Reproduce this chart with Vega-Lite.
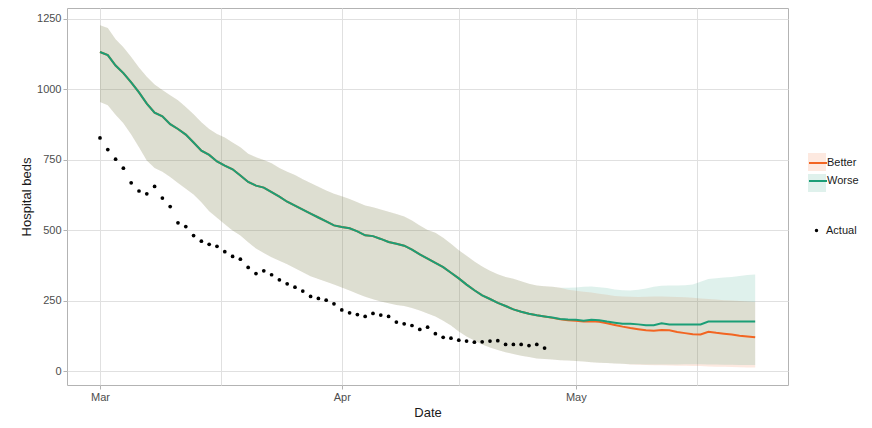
{
  "$schema": "https://vega.github.io/schema/vega-lite/v6.json",
  "width": 721,
  "height": 377,
  "autosize": "none",
  "padding": {"left": 67, "top": 8, "right": 84, "bottom": 43},
  "background": "white",
  "datasets": {
    "model": [
      {"date": "2020-03-01", "scenario": "Better", "beds": 1133, "lower": 956, "upper": 1228},
      {"date": "2020-03-02", "scenario": "Better", "beds": 1122, "lower": 944, "upper": 1218},
      {"date": "2020-03-03", "scenario": "Better", "beds": 1085, "lower": 910, "upper": 1178},
      {"date": "2020-03-04", "scenario": "Better", "beds": 1058, "lower": 880, "upper": 1150},
      {"date": "2020-03-05", "scenario": "Better", "beds": 1025, "lower": 840, "upper": 1115},
      {"date": "2020-03-06", "scenario": "Better", "beds": 990, "lower": 795, "upper": 1078},
      {"date": "2020-03-07", "scenario": "Better", "beds": 950, "lower": 748, "upper": 1045},
      {"date": "2020-03-08", "scenario": "Better", "beds": 918, "lower": 722, "upper": 1018},
      {"date": "2020-03-09", "scenario": "Better", "beds": 905, "lower": 708, "upper": 998},
      {"date": "2020-03-10", "scenario": "Better", "beds": 877, "lower": 690, "upper": 980},
      {"date": "2020-03-11", "scenario": "Better", "beds": 860, "lower": 668, "upper": 962},
      {"date": "2020-03-12", "scenario": "Better", "beds": 840, "lower": 648, "upper": 938},
      {"date": "2020-03-13", "scenario": "Better", "beds": 812, "lower": 628, "upper": 912},
      {"date": "2020-03-14", "scenario": "Better", "beds": 783, "lower": 600, "upper": 884},
      {"date": "2020-03-15", "scenario": "Better", "beds": 768, "lower": 568, "upper": 860},
      {"date": "2020-03-16", "scenario": "Better", "beds": 745, "lower": 545, "upper": 842},
      {"date": "2020-03-17", "scenario": "Better", "beds": 730, "lower": 522, "upper": 830},
      {"date": "2020-03-18", "scenario": "Better", "beds": 717, "lower": 500, "upper": 812},
      {"date": "2020-03-19", "scenario": "Better", "beds": 695, "lower": 482, "upper": 795},
      {"date": "2020-03-20", "scenario": "Better", "beds": 672, "lower": 458, "upper": 772},
      {"date": "2020-03-21", "scenario": "Better", "beds": 659, "lower": 436, "upper": 760},
      {"date": "2020-03-22", "scenario": "Better", "beds": 652, "lower": 420, "upper": 750},
      {"date": "2020-03-23", "scenario": "Better", "beds": 636, "lower": 405, "upper": 738},
      {"date": "2020-03-24", "scenario": "Better", "beds": 620, "lower": 393, "upper": 722},
      {"date": "2020-03-25", "scenario": "Better", "beds": 602, "lower": 380, "upper": 708},
      {"date": "2020-03-26", "scenario": "Better", "beds": 588, "lower": 366, "upper": 697},
      {"date": "2020-03-27", "scenario": "Better", "beds": 574, "lower": 352, "upper": 682},
      {"date": "2020-03-28", "scenario": "Better", "beds": 560, "lower": 338, "upper": 668},
      {"date": "2020-03-29", "scenario": "Better", "beds": 546, "lower": 328, "upper": 655},
      {"date": "2020-03-30", "scenario": "Better", "beds": 532, "lower": 318, "upper": 642},
      {"date": "2020-03-31", "scenario": "Better", "beds": 518, "lower": 308, "upper": 630},
      {"date": "2020-04-01", "scenario": "Better", "beds": 512, "lower": 298, "upper": 621},
      {"date": "2020-04-02", "scenario": "Better", "beds": 508, "lower": 287, "upper": 612},
      {"date": "2020-04-03", "scenario": "Better", "beds": 497, "lower": 276, "upper": 600},
      {"date": "2020-04-04", "scenario": "Better", "beds": 483, "lower": 265, "upper": 589},
      {"date": "2020-04-05", "scenario": "Better", "beds": 480, "lower": 256, "upper": 582},
      {"date": "2020-04-06", "scenario": "Better", "beds": 470, "lower": 248, "upper": 574},
      {"date": "2020-04-07", "scenario": "Better", "beds": 459, "lower": 242, "upper": 566},
      {"date": "2020-04-08", "scenario": "Better", "beds": 453, "lower": 236, "upper": 558},
      {"date": "2020-04-09", "scenario": "Better", "beds": 446, "lower": 232, "upper": 550},
      {"date": "2020-04-10", "scenario": "Better", "beds": 432, "lower": 225, "upper": 535},
      {"date": "2020-04-11", "scenario": "Better", "beds": 415, "lower": 216, "upper": 518},
      {"date": "2020-04-12", "scenario": "Better", "beds": 400, "lower": 206, "upper": 502},
      {"date": "2020-04-13", "scenario": "Better", "beds": 385, "lower": 195, "upper": 492},
      {"date": "2020-04-14", "scenario": "Better", "beds": 370, "lower": 180, "upper": 474},
      {"date": "2020-04-15", "scenario": "Better", "beds": 350, "lower": 163, "upper": 453},
      {"date": "2020-04-16", "scenario": "Better", "beds": 330, "lower": 142, "upper": 430},
      {"date": "2020-04-17", "scenario": "Better", "beds": 308, "lower": 124, "upper": 410},
      {"date": "2020-04-18", "scenario": "Better", "beds": 288, "lower": 110, "upper": 390},
      {"date": "2020-04-19", "scenario": "Better", "beds": 270, "lower": 96, "upper": 372},
      {"date": "2020-04-20", "scenario": "Better", "beds": 257, "lower": 85, "upper": 357},
      {"date": "2020-04-21", "scenario": "Better", "beds": 243, "lower": 76, "upper": 345},
      {"date": "2020-04-22", "scenario": "Better", "beds": 232, "lower": 68, "upper": 335},
      {"date": "2020-04-23", "scenario": "Better", "beds": 220, "lower": 62, "upper": 329},
      {"date": "2020-04-24", "scenario": "Better", "beds": 212, "lower": 56, "upper": 320},
      {"date": "2020-04-25", "scenario": "Better", "beds": 205, "lower": 51, "upper": 311},
      {"date": "2020-04-26", "scenario": "Better", "beds": 199, "lower": 46, "upper": 305},
      {"date": "2020-04-27", "scenario": "Better", "beds": 195, "lower": 44, "upper": 302},
      {"date": "2020-04-28", "scenario": "Better", "beds": 190, "lower": 42, "upper": 300},
      {"date": "2020-04-29", "scenario": "Better", "beds": 185, "lower": 40, "upper": 297},
      {"date": "2020-04-30", "scenario": "Better", "beds": 182, "lower": 39, "upper": 290},
      {"date": "2020-05-01", "scenario": "Better", "beds": 180, "lower": 37, "upper": 286},
      {"date": "2020-05-02", "scenario": "Better", "beds": 177, "lower": 35, "upper": 283},
      {"date": "2020-05-03", "scenario": "Better", "beds": 178, "lower": 33, "upper": 280},
      {"date": "2020-05-04", "scenario": "Better", "beds": 176, "lower": 31, "upper": 276},
      {"date": "2020-05-05", "scenario": "Better", "beds": 171, "lower": 30, "upper": 272},
      {"date": "2020-05-06", "scenario": "Better", "beds": 165, "lower": 28, "upper": 268},
      {"date": "2020-05-07", "scenario": "Better", "beds": 159, "lower": 27, "upper": 266},
      {"date": "2020-05-08", "scenario": "Better", "beds": 154, "lower": 25, "upper": 265},
      {"date": "2020-05-09", "scenario": "Better", "beds": 150, "lower": 24, "upper": 264},
      {"date": "2020-05-10", "scenario": "Better", "beds": 146, "lower": 23, "upper": 265},
      {"date": "2020-05-11", "scenario": "Better", "beds": 144, "lower": 22, "upper": 266},
      {"date": "2020-05-12", "scenario": "Better", "beds": 147, "lower": 22, "upper": 266},
      {"date": "2020-05-13", "scenario": "Better", "beds": 146, "lower": 21, "upper": 265},
      {"date": "2020-05-14", "scenario": "Better", "beds": 140, "lower": 20, "upper": 264},
      {"date": "2020-05-15", "scenario": "Better", "beds": 136, "lower": 20, "upper": 263},
      {"date": "2020-05-16", "scenario": "Better", "beds": 132, "lower": 19, "upper": 261},
      {"date": "2020-05-17", "scenario": "Better", "beds": 131, "lower": 19, "upper": 259},
      {"date": "2020-05-18", "scenario": "Better", "beds": 141, "lower": 18, "upper": 257},
      {"date": "2020-05-19", "scenario": "Better", "beds": 137, "lower": 17, "upper": 255},
      {"date": "2020-05-20", "scenario": "Better", "beds": 134, "lower": 17, "upper": 253},
      {"date": "2020-05-21", "scenario": "Better", "beds": 131, "lower": 16, "upper": 252},
      {"date": "2020-05-22", "scenario": "Better", "beds": 127, "lower": 15, "upper": 250},
      {"date": "2020-05-23", "scenario": "Better", "beds": 124, "lower": 14, "upper": 248},
      {"date": "2020-05-24", "scenario": "Better", "beds": 121, "lower": 14, "upper": 246},
      {"date": "2020-03-01", "scenario": "Worse", "beds": 1133, "lower": 956, "upper": 1228},
      {"date": "2020-03-02", "scenario": "Worse", "beds": 1122, "lower": 944, "upper": 1218},
      {"date": "2020-03-03", "scenario": "Worse", "beds": 1085, "lower": 910, "upper": 1178},
      {"date": "2020-03-04", "scenario": "Worse", "beds": 1058, "lower": 880, "upper": 1150},
      {"date": "2020-03-05", "scenario": "Worse", "beds": 1025, "lower": 840, "upper": 1115},
      {"date": "2020-03-06", "scenario": "Worse", "beds": 990, "lower": 795, "upper": 1078},
      {"date": "2020-03-07", "scenario": "Worse", "beds": 950, "lower": 748, "upper": 1045},
      {"date": "2020-03-08", "scenario": "Worse", "beds": 918, "lower": 722, "upper": 1018},
      {"date": "2020-03-09", "scenario": "Worse", "beds": 905, "lower": 708, "upper": 998},
      {"date": "2020-03-10", "scenario": "Worse", "beds": 877, "lower": 690, "upper": 980},
      {"date": "2020-03-11", "scenario": "Worse", "beds": 860, "lower": 668, "upper": 962},
      {"date": "2020-03-12", "scenario": "Worse", "beds": 840, "lower": 648, "upper": 938},
      {"date": "2020-03-13", "scenario": "Worse", "beds": 812, "lower": 628, "upper": 912},
      {"date": "2020-03-14", "scenario": "Worse", "beds": 783, "lower": 600, "upper": 884},
      {"date": "2020-03-15", "scenario": "Worse", "beds": 768, "lower": 568, "upper": 860},
      {"date": "2020-03-16", "scenario": "Worse", "beds": 745, "lower": 545, "upper": 842},
      {"date": "2020-03-17", "scenario": "Worse", "beds": 730, "lower": 522, "upper": 830},
      {"date": "2020-03-18", "scenario": "Worse", "beds": 717, "lower": 500, "upper": 812},
      {"date": "2020-03-19", "scenario": "Worse", "beds": 695, "lower": 482, "upper": 795},
      {"date": "2020-03-20", "scenario": "Worse", "beds": 672, "lower": 458, "upper": 772},
      {"date": "2020-03-21", "scenario": "Worse", "beds": 659, "lower": 436, "upper": 760},
      {"date": "2020-03-22", "scenario": "Worse", "beds": 652, "lower": 420, "upper": 750},
      {"date": "2020-03-23", "scenario": "Worse", "beds": 636, "lower": 405, "upper": 738},
      {"date": "2020-03-24", "scenario": "Worse", "beds": 620, "lower": 393, "upper": 722},
      {"date": "2020-03-25", "scenario": "Worse", "beds": 602, "lower": 380, "upper": 708},
      {"date": "2020-03-26", "scenario": "Worse", "beds": 588, "lower": 366, "upper": 697},
      {"date": "2020-03-27", "scenario": "Worse", "beds": 574, "lower": 352, "upper": 682},
      {"date": "2020-03-28", "scenario": "Worse", "beds": 560, "lower": 338, "upper": 668},
      {"date": "2020-03-29", "scenario": "Worse", "beds": 546, "lower": 328, "upper": 655},
      {"date": "2020-03-30", "scenario": "Worse", "beds": 532, "lower": 318, "upper": 642},
      {"date": "2020-03-31", "scenario": "Worse", "beds": 518, "lower": 308, "upper": 630},
      {"date": "2020-04-01", "scenario": "Worse", "beds": 512, "lower": 298, "upper": 621},
      {"date": "2020-04-02", "scenario": "Worse", "beds": 508, "lower": 287, "upper": 612},
      {"date": "2020-04-03", "scenario": "Worse", "beds": 497, "lower": 276, "upper": 600},
      {"date": "2020-04-04", "scenario": "Worse", "beds": 483, "lower": 265, "upper": 589},
      {"date": "2020-04-05", "scenario": "Worse", "beds": 480, "lower": 256, "upper": 582},
      {"date": "2020-04-06", "scenario": "Worse", "beds": 470, "lower": 248, "upper": 574},
      {"date": "2020-04-07", "scenario": "Worse", "beds": 459, "lower": 242, "upper": 566},
      {"date": "2020-04-08", "scenario": "Worse", "beds": 453, "lower": 236, "upper": 558},
      {"date": "2020-04-09", "scenario": "Worse", "beds": 446, "lower": 232, "upper": 550},
      {"date": "2020-04-10", "scenario": "Worse", "beds": 432, "lower": 225, "upper": 535},
      {"date": "2020-04-11", "scenario": "Worse", "beds": 415, "lower": 216, "upper": 518},
      {"date": "2020-04-12", "scenario": "Worse", "beds": 400, "lower": 206, "upper": 502},
      {"date": "2020-04-13", "scenario": "Worse", "beds": 385, "lower": 195, "upper": 492},
      {"date": "2020-04-14", "scenario": "Worse", "beds": 370, "lower": 180, "upper": 474},
      {"date": "2020-04-15", "scenario": "Worse", "beds": 350, "lower": 163, "upper": 453},
      {"date": "2020-04-16", "scenario": "Worse", "beds": 330, "lower": 142, "upper": 430},
      {"date": "2020-04-17", "scenario": "Worse", "beds": 308, "lower": 124, "upper": 410},
      {"date": "2020-04-18", "scenario": "Worse", "beds": 288, "lower": 110, "upper": 390},
      {"date": "2020-04-19", "scenario": "Worse", "beds": 270, "lower": 96, "upper": 372},
      {"date": "2020-04-20", "scenario": "Worse", "beds": 257, "lower": 85, "upper": 357},
      {"date": "2020-04-21", "scenario": "Worse", "beds": 243, "lower": 76, "upper": 345},
      {"date": "2020-04-22", "scenario": "Worse", "beds": 232, "lower": 68, "upper": 335},
      {"date": "2020-04-23", "scenario": "Worse", "beds": 220, "lower": 62, "upper": 329},
      {"date": "2020-04-24", "scenario": "Worse", "beds": 212, "lower": 56, "upper": 320},
      {"date": "2020-04-25", "scenario": "Worse", "beds": 205, "lower": 51, "upper": 311},
      {"date": "2020-04-26", "scenario": "Worse", "beds": 199, "lower": 46, "upper": 305},
      {"date": "2020-04-27", "scenario": "Worse", "beds": 195, "lower": 44, "upper": 302},
      {"date": "2020-04-28", "scenario": "Worse", "beds": 191, "lower": 42, "upper": 300},
      {"date": "2020-04-29", "scenario": "Worse", "beds": 186, "lower": 40, "upper": 297},
      {"date": "2020-04-30", "scenario": "Worse", "beds": 184, "lower": 39, "upper": 297},
      {"date": "2020-05-01", "scenario": "Worse", "beds": 183, "lower": 37, "upper": 298},
      {"date": "2020-05-02", "scenario": "Worse", "beds": 180, "lower": 35, "upper": 300},
      {"date": "2020-05-03", "scenario": "Worse", "beds": 183, "lower": 33, "upper": 301},
      {"date": "2020-05-04", "scenario": "Worse", "beds": 182, "lower": 31, "upper": 299},
      {"date": "2020-05-05", "scenario": "Worse", "beds": 177, "lower": 30, "upper": 296},
      {"date": "2020-05-06", "scenario": "Worse", "beds": 173, "lower": 28, "upper": 291},
      {"date": "2020-05-07", "scenario": "Worse", "beds": 169, "lower": 27, "upper": 288},
      {"date": "2020-05-08", "scenario": "Worse", "beds": 169, "lower": 26, "upper": 287},
      {"date": "2020-05-09", "scenario": "Worse", "beds": 167, "lower": 26, "upper": 290},
      {"date": "2020-05-10", "scenario": "Worse", "beds": 164, "lower": 25, "upper": 294},
      {"date": "2020-05-11", "scenario": "Worse", "beds": 164, "lower": 25, "upper": 300},
      {"date": "2020-05-12", "scenario": "Worse", "beds": 171, "lower": 25, "upper": 304},
      {"date": "2020-05-13", "scenario": "Worse", "beds": 167, "lower": 25, "upper": 305},
      {"date": "2020-05-14", "scenario": "Worse", "beds": 167, "lower": 25, "upper": 305},
      {"date": "2020-05-15", "scenario": "Worse", "beds": 167, "lower": 26, "upper": 306},
      {"date": "2020-05-16", "scenario": "Worse", "beds": 167, "lower": 26, "upper": 308},
      {"date": "2020-05-17", "scenario": "Worse", "beds": 167, "lower": 26, "upper": 318},
      {"date": "2020-05-18", "scenario": "Worse", "beds": 177, "lower": 25, "upper": 328},
      {"date": "2020-05-19", "scenario": "Worse", "beds": 177, "lower": 25, "upper": 331},
      {"date": "2020-05-20", "scenario": "Worse", "beds": 177, "lower": 24, "upper": 333},
      {"date": "2020-05-21", "scenario": "Worse", "beds": 177, "lower": 24, "upper": 335},
      {"date": "2020-05-22", "scenario": "Worse", "beds": 177, "lower": 23, "upper": 339},
      {"date": "2020-05-23", "scenario": "Worse", "beds": 177, "lower": 23, "upper": 342},
      {"date": "2020-05-24", "scenario": "Worse", "beds": 177, "lower": 23, "upper": 344}
    ],
    "actual": [
      {"date": "2020-03-01", "beds": 828}, {"date": "2020-03-02", "beds": 787},
      {"date": "2020-03-03", "beds": 753}, {"date": "2020-03-04", "beds": 721},
      {"date": "2020-03-05", "beds": 669}, {"date": "2020-03-06", "beds": 640},
      {"date": "2020-03-07", "beds": 630}, {"date": "2020-03-08", "beds": 656},
      {"date": "2020-03-09", "beds": 615}, {"date": "2020-03-10", "beds": 585},
      {"date": "2020-03-11", "beds": 527}, {"date": "2020-03-12", "beds": 514},
      {"date": "2020-03-13", "beds": 482}, {"date": "2020-03-14", "beds": 462},
      {"date": "2020-03-15", "beds": 451}, {"date": "2020-03-16", "beds": 444},
      {"date": "2020-03-17", "beds": 425}, {"date": "2020-03-18", "beds": 408},
      {"date": "2020-03-19", "beds": 398}, {"date": "2020-03-20", "beds": 369},
      {"date": "2020-03-21", "beds": 347}, {"date": "2020-03-22", "beds": 357},
      {"date": "2020-03-23", "beds": 343}, {"date": "2020-03-24", "beds": 325},
      {"date": "2020-03-25", "beds": 311}, {"date": "2020-03-26", "beds": 299},
      {"date": "2020-03-27", "beds": 285}, {"date": "2020-03-28", "beds": 266},
      {"date": "2020-03-29", "beds": 259}, {"date": "2020-03-30", "beds": 253},
      {"date": "2020-03-31", "beds": 240}, {"date": "2020-04-01", "beds": 218},
      {"date": "2020-04-02", "beds": 208}, {"date": "2020-04-03", "beds": 202},
      {"date": "2020-04-04", "beds": 195}, {"date": "2020-04-05", "beds": 206},
      {"date": "2020-04-06", "beds": 200}, {"date": "2020-04-07", "beds": 195},
      {"date": "2020-04-08", "beds": 175}, {"date": "2020-04-09", "beds": 169},
      {"date": "2020-04-10", "beds": 163}, {"date": "2020-04-11", "beds": 149},
      {"date": "2020-04-12", "beds": 157}, {"date": "2020-04-13", "beds": 134},
      {"date": "2020-04-14", "beds": 121}, {"date": "2020-04-15", "beds": 118},
      {"date": "2020-04-16", "beds": 111}, {"date": "2020-04-17", "beds": 108},
      {"date": "2020-04-18", "beds": 104}, {"date": "2020-04-19", "beds": 105},
      {"date": "2020-04-20", "beds": 108}, {"date": "2020-04-21", "beds": 109},
      {"date": "2020-04-22", "beds": 96}, {"date": "2020-04-23", "beds": 96},
      {"date": "2020-04-24", "beds": 96}, {"date": "2020-04-25", "beds": 92},
      {"date": "2020-04-26", "beds": 96}, {"date": "2020-04-27", "beds": 83}
    ]
  },
  "encoding": {
    "x": {
      "field": "date",
      "type": "temporal",
      "title": "Date",
      "scale": {
        "type": "utc",
        "domain": [
          {"year": 2020, "month": 2, "date": 25, "hours": 18, "minutes": 30, "utc": true},
          {"year": 2020, "month": 5, "date": 28, "hours": 5, "utc": true}
        ]
      },
      "axis": {
        "values": [
          {"year": 2020, "month": 3, "date": 1, "utc": true},
          {"year": 2020, "month": 3, "date": 16, "hours": 12, "utc": true},
          {"year": 2020, "month": 4, "date": 1, "utc": true},
          {"year": 2020, "month": 4, "date": 16, "utc": true},
          {"year": 2020, "month": 5, "date": 1, "utc": true},
          {"year": 2020, "month": 5, "date": 16, "hours": 12, "utc": true}
        ],
        "labelExpr": "utcdate(datum.value) == 1 ? utcFormat(datum.value, '%b') : ''",
        "tickOpacity": {"condition": {"test": "utcdate(datum.value) == 1", "value": 1}, "value": 0},
        "labelPadding": 2,
        "titlePadding": 4
      }
    }
  },
  "layer": [
    {
      "data": {"name": "model"},
      "mark": {"type": "area", "opacity": 0.14},
      "encoding": {
        "y": {
          "field": "lower",
          "type": "quantitative",
          "stack": null,
          "title": "Hospital beds",
          "scale": {"domain": [-48, 1289], "nice": false, "zero": false},
          "axis": {
            "values": [0, 125, 250, 375, 500, 625, 750, 875, 1000, 1125, 1250],
            "format": "d",
            "labelExpr": "datum.value % 250 == 0 ? datum.label : ''",
            "tickOpacity": {"condition": {"test": "datum.value % 250 == 0", "value": 1}, "value": 0},
            "labelPadding": 2,
            "titlePadding": 3
          }
        },
        "y2": {"field": "upper"},
        "fill": {
          "field": "scenario",
          "type": "nominal",
          "scale": {"domain": {"unionWith": ["Better", "Worse"]}, "range": ["#f26522", "#1b9e77"]},
          "legend": {
            "title": null,
            "orient": "none",
            "legendX": 741,
            "legendY": 145,
            "padding": 0,
            "values": ["Better", "Worse"],
            "symbolType": "square",
            "symbolSize": 324,
            "symbolOpacity": 0.14,
            "symbolStrokeWidth": 0,
            "labelExpr": "''",
            "labelOffset": -1,
            "rowPadding": 3,
            "zindex": 0
          }
        }
      }
    },
    {
      "data": {"name": "model"},
      "mark": {"type": "line", "strokeWidth": 2},
      "encoding": {
        "y": {"field": "beds", "type": "quantitative", "title": "Hospital beds"},
        "stroke": {
          "field": "scenario",
          "type": "nominal",
          "scale": {"domain": ["Better", "Worse"], "range": ["#f26522", "#1b9e77"]},
          "legend": {
            "title": null,
            "orient": "none",
            "legendX": 741,
            "legendY": 145,
            "padding": 0,
            "symbolType": "stroke",
            "symbolSize": 324,
            "symbolStrokeWidth": 2,
            "labelOffset": -1,
            "rowPadding": 3,
            "zindex": 1
          }
        }
      }
    },
    {
      "data": {"name": "actual"},
      "mark": {"type": "point", "filled": true, "color": "black", "size": 14, "opacity": 1},
      "encoding": {
        "y": {"field": "beds", "type": "quantitative", "title": "Hospital beds"},
        "shape": {
          "datum": "Actual",
          "type": "nominal",
          "scale": {"range": ["circle"]},
          "legend": {
            "title": null,
            "orient": "none",
            "legendX": 744,
            "legendY": 217,
            "padding": 0,
            "symbolSize": 12,
            "symbolFillColor": "black",
            "symbolStrokeWidth": 0,
            "labelOffset": 4
          }
        }
      }
    }
  ],
  "config": {
    "font": "Liberation Sans",
    "view": {"stroke": "#b3b3b3", "strokeWidth": 1},
    "axis": {
      "domain": false,
      "grid": true,
      "gridColor": "#e0e0e0",
      "gridWidth": 1,
      "tickColor": "#b3b3b3",
      "tickSize": 4,
      "labelFont": "Liberation Sans",
      "labelFontSize": 11,
      "labelColor": "#4d4d4d",
      "titleFont": "Liberation Sans",
      "titleFontSize": 13,
      "titleFontWeight": "normal",
      "titleColor": "#1a1a1a"
    },
    "legend": {
      "labelFont": "Liberation Sans",
      "labelFontSize": 11,
      "labelColor": "#1a1a1a"
    }
  }
}
